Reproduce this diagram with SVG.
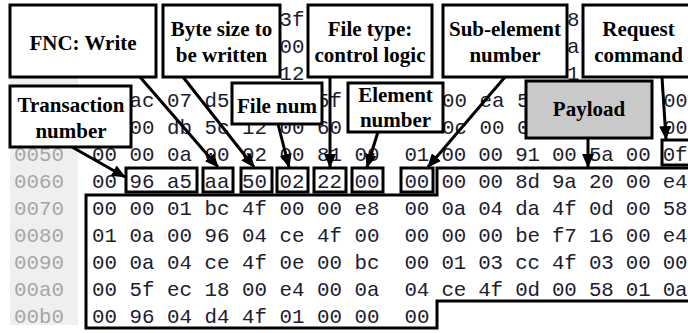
<svg xmlns="http://www.w3.org/2000/svg" width="688" height="333" viewBox="0 0 688 333">
<style>
.hex{font-family:"Liberation Mono","DejaVu Sans Mono",monospace;font-size:20.8px;fill:#1c1c30}
.addr{font-family:"Liberation Mono","DejaVu Sans Mono",monospace;font-size:20.8px;fill:#a6a6a6}
.box{fill:#fff;stroke:#000;stroke-width:3}
.pay{fill:#c9c9c9;stroke:#000;stroke-width:3}
.hl{fill:none;stroke:#000;stroke-width:3}
.lbl{font-family:"Liberation Serif","Times New Roman",serif;font-weight:bold;font-size:21px;fill:#000;text-anchor:middle}
.arr{stroke:#000;stroke-width:3;fill:none;marker-end:url(#ah)}
</style>
<defs>
<marker id="ah" viewBox="0 0 14 12" refX="13" refY="6" markerWidth="14" markerHeight="12" markerUnits="userSpaceOnUse" orient="auto">
<path d="M0,0 L14,6 L0,12 z" fill="#000"/>
</marker>
</defs>
<rect x="0" y="0" width="688" height="333" fill="#fff"/>
<rect x="10" y="77" width="68" height="248" fill="#efefef"/>

<g id="addresses" class="addr">
<text x="14" y="161">0050</text>
<text x="14" y="188">0060</text>
<text x="14" y="215">0070</text>
<text x="14" y="242">0080</text>
<text x="14" y="269">0090</text>
<text x="14" y="296">00a0</text>
<text x="14" y="323">00b0</text>
</g>

<g id="hexdump" class="hex">
<text x="279.5" y="26">3f</text><text x="567" y="26">8</text>
<text x="279.5" y="53">00</text><text x="567" y="53">a</text>
<text x="279.5" y="80">12</text><text x="567" y="80">1</text>
<text x="129.5" y="107">ac</text><text x="167" y="107">07</text><text x="204.5" y="107">d5</text><text x="317" y="107">5f</text>
<text x="442" y="107">00</text><text x="479.5" y="107">ea</text><text x="517" y="107">5</text><text x="663.5" y="107" textLength="24" lengthAdjust="spacingAndGlyphs">00</text>
<text x="129.5" y="134">00</text><text x="167" y="134">db</text><text x="204.5" y="134">5c</text><text x="242" y="134">12</text><text x="279.5" y="134">00</text><text x="317" y="134">60</text>
<text x="442" y="134">0c</text><text x="479.5" y="134">00</text><text x="517" y="134">0</text><text x="663.5" y="134" textLength="24" lengthAdjust="spacingAndGlyphs">00</text>
<text x="92" y="161" textLength="287.5" lengthAdjust="spacing">00 00 0a 00 02 00 81 00</text>
<text x="404.5" y="161" textLength="283" lengthAdjust="spacing">01 00 00 91 00 5a 00 0f</text>
<text x="92" y="188" textLength="287.5" lengthAdjust="spacing">00 96 a5 aa 50 02 22 00</text>
<text x="404.5" y="188" textLength="283" lengthAdjust="spacing">00 00 00 8d 9a 20 00 e4</text>
<text x="92" y="215" textLength="287.5" lengthAdjust="spacing">00 00 01 bc 4f 00 00 e8</text>
<text x="404.5" y="215" textLength="283" lengthAdjust="spacing">00 0a 04 da 4f 0d 00 58</text>
<text x="92" y="242" textLength="287.5" lengthAdjust="spacing">01 0a 00 96 04 ce 4f 00</text>
<text x="404.5" y="242" textLength="283" lengthAdjust="spacing">00 00 00 be f7 16 00 e4</text>
<text x="92" y="269" textLength="287.5" lengthAdjust="spacing">00 0a 04 ce 4f 0e 00 bc</text>
<text x="404.5" y="269" textLength="283" lengthAdjust="spacing">00 01 03 cc 4f 03 00 00</text>
<text x="92" y="296" textLength="287.5" lengthAdjust="spacing">00 5f ec 18 00 e4 00 0a</text>
<text x="404.5" y="296" textLength="283" lengthAdjust="spacing">04 ce 4f 0d 00 58 01 0a</text>
<text x="92" y="323" textLength="287.5" lengthAdjust="spacing">00 96 04 d4 4f 01 00 00</text>
<text x="404.5" y="323">00</text>
</g>

<g id="highlights">
<rect class="hl" x="126" y="168" width="71" height="24"/>
<rect class="hl" x="203" y="168" width="30" height="24"/>
<rect class="hl" x="241" y="168" width="31" height="24"/>
<rect class="hl" x="277" y="168" width="31" height="24"/>
<rect class="hl" x="314" y="168" width="32" height="24"/>
<rect class="hl" x="352" y="168" width="31" height="24"/>
<rect class="hl" x="401" y="168" width="32" height="24"/>
<rect class="hl" x="662" y="140" width="33" height="25"/>
<path class="hl" d="M437,168 L694,168 L694,301 L437,301 L437,328 L86,328 L86,195 L437,195 Z"/>
</g>

<g id="fnc-write"><rect class="box" x="10" y="5" width="146" height="72"/><text class="lbl" x="83" y="50">FNC: Write</text></g>
<g id="byte-size"><rect class="box" x="163" y="5" width="117" height="72"/><text class="lbl" x="221.5" y="36">Byte size to</text><text class="lbl" x="221.5" y="62">be written</text></g>
<g id="file-type"><rect class="box" x="308" y="5" width="124" height="72"/><text class="lbl" x="370" y="36">File type:</text><text class="lbl" x="370" y="62">control logic</text></g>
<g id="sub-element"><rect class="box" x="443" y="5" width="124" height="72"/><text class="lbl" x="505" y="36">Sub-element</text><text class="lbl" x="505" y="62">number</text></g>
<g id="request-command"><rect class="box" x="583" y="5" width="111" height="72"/><text class="lbl" x="638.5" y="36">Request</text><text class="lbl" x="638.5" y="62">command</text></g>
<g id="transaction"><rect class="box" x="10" y="86" width="121" height="61"/><text class="lbl" x="71" y="112">Transaction</text><text class="lbl" x="71" y="138">number</text></g>
<g id="file-num"><rect class="box" x="232" y="83" width="90" height="41"/><text class="lbl" x="277" y="113">File num</text></g>
<g id="element"><rect class="box" x="348" y="83" width="95" height="49"/><text class="lbl" x="395.5" y="102">Element</text><text class="lbl" x="395.5" y="127">number</text></g>
<g id="payload"><rect class="pay" x="526" y="81" width="126" height="57"/><text class="lbl" x="589" y="116">Payload</text></g>

<g id="connectors">
<line class="arr" x1="140" y1="77" x2="218" y2="167"/>
<line class="arr" x1="183" y1="77" x2="254" y2="167"/>
<line class="arr" x1="278" y1="124" x2="289" y2="167"/>
<line class="arr" x1="330" y1="77" x2="330" y2="167"/>
<line class="arr" x1="378" y1="132" x2="367" y2="167"/>
<line class="arr" x1="505" y1="77" x2="428" y2="167"/>
<line class="arr" x1="72" y1="147" x2="125" y2="177"/>
<line class="arr" x1="662" y1="77" x2="666" y2="139"/>
<line class="arr" x1="588" y1="138" x2="588" y2="167"/>
</g>
</svg>
